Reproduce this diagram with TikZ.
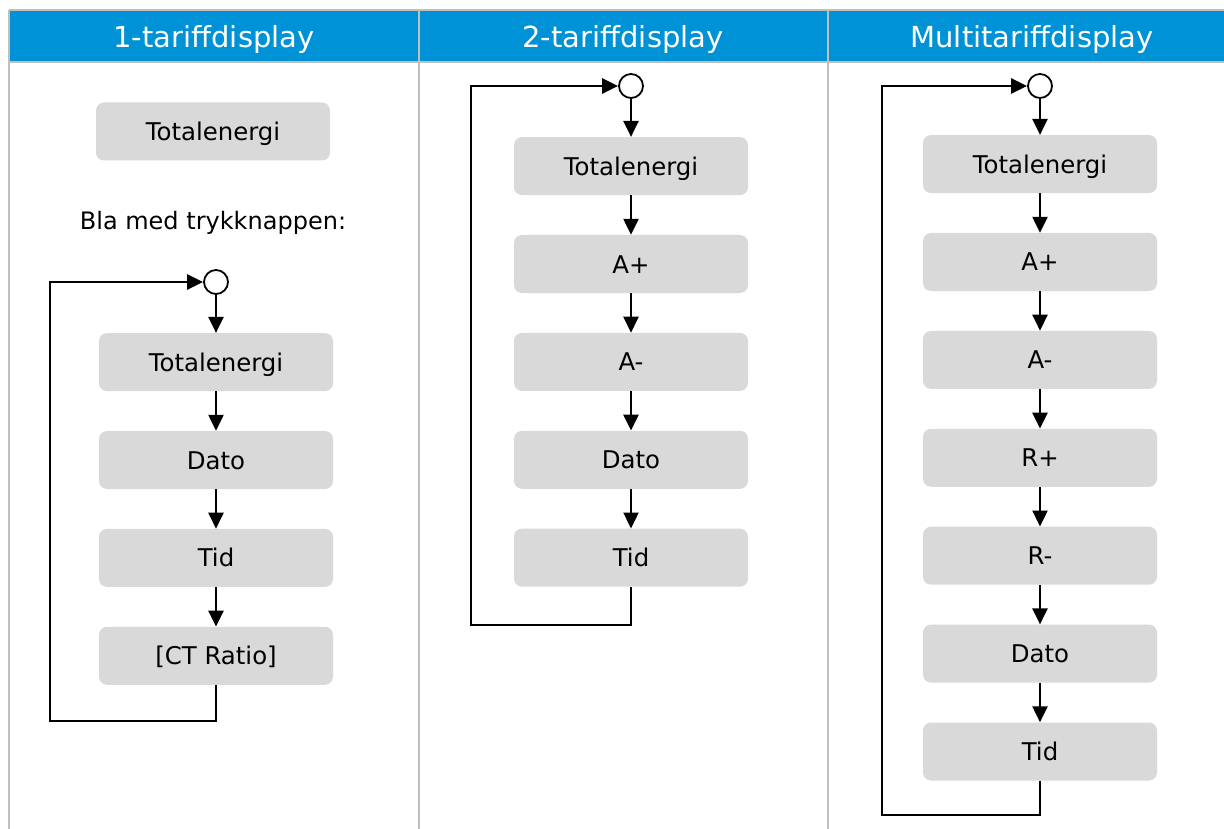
\documentclass[tikz,border=0pt]{standalone}
\usepackage{fontspec}
\setmainfont{DejaVu Sans}
\usetikzlibrary{arrows.meta, positioning}

\definecolor{hdrblue}{HTML}{0092D7}
\definecolor{boxgray}{HTML}{D9D9D9}
\definecolor{rulegray}{HTML}{BFBFBF}

\begin{document}
\begin{tikzpicture}[
        x=1pt, y=-1pt,
        node distance=39.5pt,
        disp/.style={rectangle, fill=boxgray, rounded corners=8pt, minimum width=234pt, minimum height=58pt, inner sep=0pt, text height=18pt, text depth=0pt, font=\fontsize{24.4}{29}\selectfont},
        knot/.style={circle, draw=black, line width=1.8pt, fill=white, minimum size=24pt, inner sep=0pt},
        hdr/.style={anchor=base, text=white, font=\fontsize{29}{34}\selectfont},
        hint/.style={anchor=base, font=\fontsize{24}{29}\selectfont},
        flow/.style={-{Triangle[length=16pt, width=15pt]}, line width=2.4pt},
        rule/.style={draw=rulegray, line width=2.4pt}
    ]
        \fill[white] (0,0) rectangle (1224,829);
        \useasboundingbox (0,0) rectangle (1224,829);

        % table head and column rules
        \fill[hdrblue] (9,10) rectangle (1224,62);
        \draw[rule] (9,10) -- (1224,10);
        \draw[rule] (9,62) -- (1224,62);
        \draw[rule] (9,10) -- (9,829);
        \draw[rule] (419,10) -- (419,829);
        \draw[rule] (828,10) -- (828,829);

        \node[hdr] (oneHead) at (214,48) {1-tariffdisplay};
        \node[hdr] (twoHead) at (623,48) {2-tariffdisplay};
        \node[hdr] (multiHead) at (1032,48) {Multitariffdisplay};

        % 1-tariff
        \node[disp] (oneStart) at (213,131.5) {Totalenergi};
        \node[hint] (oneHint) at (213,230) {Bla med trykknappen:};
        \node[knot] (oneKnot) at (216,282) {};
        \node[disp, below=38pt of oneKnot] (oneTotal) {Totalenergi};
        \node[disp, below=of oneTotal] (oneDato) {Dato};
        \node[disp, below=of oneDato] (oneTid) {Tid};
        \node[disp, below=of oneTid] (oneCT) {[CT Ratio]};
        \coordinate (oneBack) at (50,721);

        \draw[flow] (oneKnot) -- (oneTotal);
        \draw[flow] (oneTotal) -- (oneDato);
        \draw[flow] (oneDato) -- (oneTid);
        \draw[flow] (oneTid) -- (oneCT);
        \draw[flow] (oneCT.south) |- (oneBack) |- (oneKnot.west);

        % 2-tariff
        \node[knot] (twoKnot) at (631,86) {};
        \node[disp, below=38pt of twoKnot] (twoTotal) {Totalenergi};
        \node[disp, below=of twoTotal] (twoAp) {A+};
        \node[disp, below=of twoAp] (twoAm) {A-};
        \node[disp, below=of twoAm] (twoDato) {Dato};
        \node[disp, below=of twoDato] (twoTid) {Tid};
        \coordinate (twoBack) at (471,625);

        \draw[flow] (twoKnot) -- (twoTotal);
        \draw[flow] (twoTotal) -- (twoAp);
        \draw[flow] (twoAp) -- (twoAm);
        \draw[flow] (twoAm) -- (twoDato);
        \draw[flow] (twoDato) -- (twoTid);
        \draw[flow] (twoTid.south) |- (twoBack) |- (twoKnot.west);

        % multitariff
        \node[knot] (multiKnot) at (1040,86) {};
        \node[disp, below=36pt of multiKnot] (multiTotal) {Totalenergi};
        \node[disp, below=of multiTotal] (multiAp) {A+};
        \node[disp, below=of multiAp] (multiAm) {A-};
        \node[disp, below=of multiAm] (multiRp) {R+};
        \node[disp, below=of multiRp] (multiRm) {R-};
        \node[disp, below=of multiRm] (multiDato) {Dato};
        \node[disp, below=of multiDato] (multiTid) {Tid};
        \coordinate (multiBack) at (882,815);

        \draw[flow] (multiKnot) -- (multiTotal);
        \draw[flow] (multiTotal) -- (multiAp);
        \draw[flow] (multiAp) -- (multiAm);
        \draw[flow] (multiAm) -- (multiRp);
        \draw[flow] (multiRp) -- (multiRm);
        \draw[flow] (multiRm) -- (multiDato);
        \draw[flow] (multiDato) -- (multiTid);
        \draw[flow] (multiTid.south) |- (multiBack) |- (multiKnot.west);
    \end{tikzpicture}
\end{document}
